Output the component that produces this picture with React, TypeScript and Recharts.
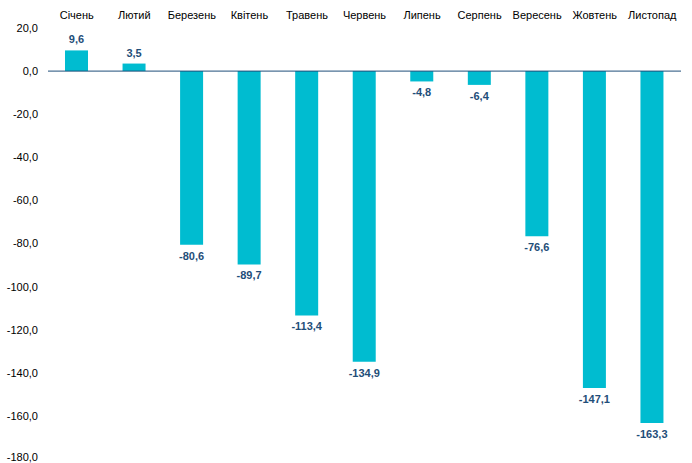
import React from "react";
import { BarChart, Bar, XAxis, YAxis, ReferenceLine, LabelList } from "recharts";

const months = ["Січень", "Лютий", "Березень", "Квітень", "Травень", "Червень", "Липень", "Серпень", "Вересень", "Жовтень", "Листопад"];
const values = [9.6, 3.5, -80.6, -89.7, -113.4, -134.9, -4.8, -6.4, -76.6, -147.1, -163.3];
const yTicks = [20, 0, -20, -40, -60, -80, -100, -120, -140, -160, -180];

const data = months.map((m, i) => ({ month: m, value: values[i] }));

const fmt = (v: number) => v.toFixed(1).replace(".", ",");

const BarLabel = (props: any) => {
  const { x, y, width, height, value } = props;
  const top = Math.min(y, y + height);
  const bottom = Math.max(y, y + height);
  const cx = x + width / 2;
  const ty = value >= 0 ? top - 7 : bottom + 15;
  return (
    <text x={cx} y={ty} textAnchor="middle" fill="#1F4E79" fontSize={11} fontWeight="bold" fontFamily="Liberation Sans, Arial, sans-serif">
      {fmt(value)}
    </text>
  );
};

export default function App() {
  return (
    <div style={{ position: "absolute", left: 0, top: 0, width: 692, height: 463, background: "#fff" }}>
      <BarChart width={692} height={463} data={data} margin={{ top: 0, right: 11, bottom: 4, left: 0 }} barSize={23}>
        <XAxis
          dataKey="month"
          orientation="top"
          height={28}
          axisLine={false}
          tickLine={false}
          interval={0}
          tick={{ fontSize: 11, fill: "#000", fontFamily: "Liberation Sans, Arial, sans-serif", dy: -1 }}
        />
        <YAxis
          width={48}
          domain={[-180, 20]}
          ticks={yTicks}
          axisLine={false}
          tickLine={false}
          tickFormatter={fmt}
          tick={{ fontSize: 11, fill: "#000", fontFamily: "Liberation Sans, Arial, sans-serif", dx: -2 }}
        />
        <Bar dataKey="value" fill="#00BCD0" isAnimationActive={false}>
          <LabelList dataKey="value" content={BarLabel} />
        </Bar>
        <ReferenceLine y={0} stroke="#1F4E79" strokeWidth={1} />
      </BarChart>
    </div>
  );
}
